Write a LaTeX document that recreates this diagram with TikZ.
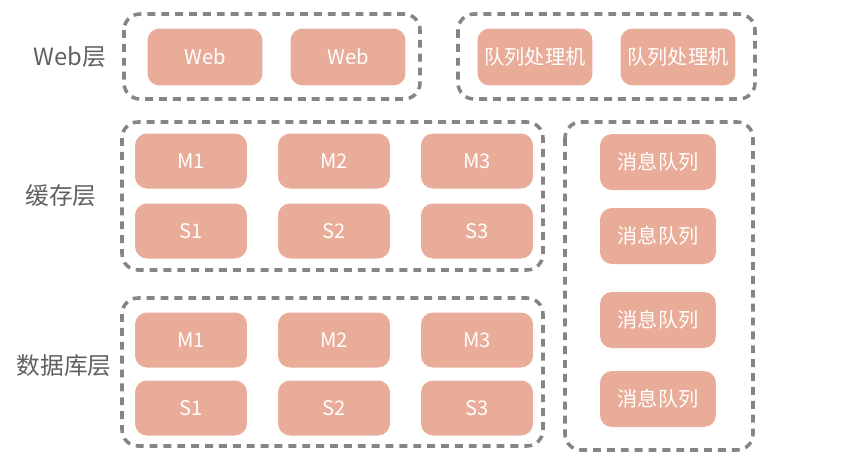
\documentclass[tikz,border=0pt]{standalone}
\usepackage{fontspec}
\setmainfont{Noto Sans CJK SC}
\usetikzlibrary{positioning}
\definecolor{boxfill}{HTML}{E9AC98}
\definecolor{framegray}{HTML}{858585}
\definecolor{labelgray}{HTML}{606060}
\begin{document}
\begin{tikzpicture}[
        x=0.02cm, y=-0.02cm,
        box/.style={fill=boxfill, rounded corners=0.24cm, text=white, font=\fontsize{11.5}{13}\selectfont, inner sep=1pt},
        webbox/.style={box, minimum width=2.3cm, minimum height=1.14cm},
        layerbox/.style={box, minimum width=2.24cm, minimum height=1.1cm},
        mqbox/.style={box, minimum width=2.32cm, minimum height=1.12cm},
        frame/.style={draw=framegray, line width=2pt, dash pattern=on 4.5pt off 3.4pt, rounded corners=0.32cm},
        layer/.style={text=labelgray, font=\fontsize{13.5}{15}\selectfont},
      ]
        \useasboundingbox (0,0) rectangle (867,464);

        % layer labels
        \node[layer] (lweb) at (70,57) {Web层};
        \node[layer] (lcache) at (61,196) {缓存层};
        \node[layer] (ldb) at (64,366) {数据库层};

        % frames
        \draw[frame] (124,14) rectangle (420,99);
        \draw[frame] (458,14) rectangle (755,99);
        \draw[frame] (122,122) rectangle (543,270);
        \draw[frame] (122,298) rectangle (543,446);
        \draw[frame] (565,122) rectangle (753,450);

        % web layer
        \node[webbox] (web1) at (205,57) {Web};
        \node[webbox] (web2) at (348,57) {Web};
        \node[webbox] (qp1) at (535,57) {队列处理机};
        \node[webbox] (qp2) at (678,57) {队列处理机};

        % cache and database layers
        \foreach \i/\cx in {1/191,2/334,3/477} {
          \node[layerbox] (cm\i) at (\cx,161) {M\i};
          \node[layerbox] (cs\i) at (\cx,231) {S\i};
          \node[layerbox] (dm\i) at (\cx,340) {M\i};
          \node[layerbox] (ds\i) at (\cx,408) {S\i};
        }

        % message queues
        \node[mqbox] (mq1) at (658,162) {消息队列};
        \node[mqbox] (mq2) at (658,236) {消息队列};
        \node[mqbox] (mq3) at (658,320) {消息队列};
        \node[mqbox] (mq4) at (658,399) {消息队列};
      \end{tikzpicture}
\end{document}
